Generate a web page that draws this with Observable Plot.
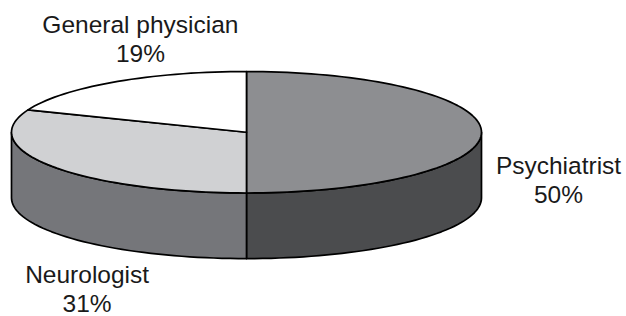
<!DOCTYPE html>
<html>
<head>
<meta charset="utf-8">
<script src="https://cdn.jsdelivr.net/npm/d3@7"></script>
<script src="https://cdn.jsdelivr.net/npm/@observablehq/plot@0.6"></script>
<style>
  html, body { margin: 0; padding: 0; background: #fff; }
  #chart svg { display: block; }
</style>
</head>
<body>
<div id="chart"></div>
<script>
// ---- data ----
const categories = ["Psychiatrist", "Neurologist", "General physician"];
const shares = [50, 31, 19];
const shareLabels = ["50%", "31%", "19%"];

// ---- styles ----
const topColors = ["#8d8e91", "#d0d1d3", "#ffffff"];
const sideColors = ["#4b4c4e", "#75767a", "#bbbbbb"];
const DEPTH = 1.08;      // side height in y units (top ellipse has radius 1)
const STEP = Math.PI / 90;

const total = d3.sum(shares);
let acc = 0;
const slices = categories.map((c, i) => {
  const a0 = acc / total * 2 * Math.PI;
  acc += shares[i];
  const a1 = acc / total * 2 * Math.PI;
  return {category: c, share: shares[i], label: shareLabels[i], a0, a1, i};
});

function pt(a, h = 0) { return {x: Math.sin(a), y: Math.cos(a) - h}; }
function arc(a0, a1, h) {
  const n = Math.max(2, Math.ceil(Math.abs(a1 - a0) / STEP));
  return d3.range(n + 1).map(k => pt(a0 + (a1 - a0) * k / n, h));
}

const marks = [];
// visible side faces (front half: angle between PI/2 and 3PI/2)
slices.forEach(s => {
  const a = Math.max(s.a0, Math.PI / 2), b = Math.min(s.a1, 3 * Math.PI / 2);
  if (b <= a) return;
  const poly = [...arc(a, b, 0), ...arc(b, a, DEPTH)];
  poly.push(poly[0]);
  marks.push(Plot.line(poly, {x: "x", y: "y", fill: sideColors[s.i], stroke: "#000", strokeWidth: 1.7, strokeLinejoin: "round"}));
});
// top faces
slices.forEach(s => {
  const poly = [{x: 0, y: 0}, ...arc(s.a0, s.a1, 0), {x: 0, y: 0}];
  marks.push(Plot.line(poly, {x: "x", y: "y", fill: topColors[s.i], stroke: "#000", strokeWidth: 1.7, strokeLinejoin: "round"}));
});

// labels anchored to each slice's mid-angle edge point
const labelOffsets = [[77, 47], [35, 56], [26, -44]];
slices.forEach(s => {
  const m = (s.a0 + s.a1) / 2;
  const front = Math.cos(m) < 0 && Math.abs(Math.sin(m)) < 0.99;
  const p = pt(m, front ? DEPTH : 0);
  marks.push(Plot.text([{...p, text: s.category + "\n" + s.label}], {
    x: "x", y: "y", text: "text",
    dx: labelOffsets[s.i][0], dy: labelOffsets[s.i][1],
    fontSize: 24.5, fontFamily: "Liberation Sans, Arial, sans-serif",
    fill: "#1a1a1a", lineHeight: 1.2, textAnchor: "middle", lineAnchor: "middle"
  }));
});

const chart = Plot.plot({
  width: 626,
  height: 316,
  margin: 0,
  x: {domain: [-1, 1], range: [11, 481], axis: null},
  y: {domain: [-1, 1], range: [192.5, 71], axis: null},
  style: {background: "#fff", overflow: "visible"},
  marks
});
document.getElementById("chart").appendChild(chart);
</script>
</body>
</html>
